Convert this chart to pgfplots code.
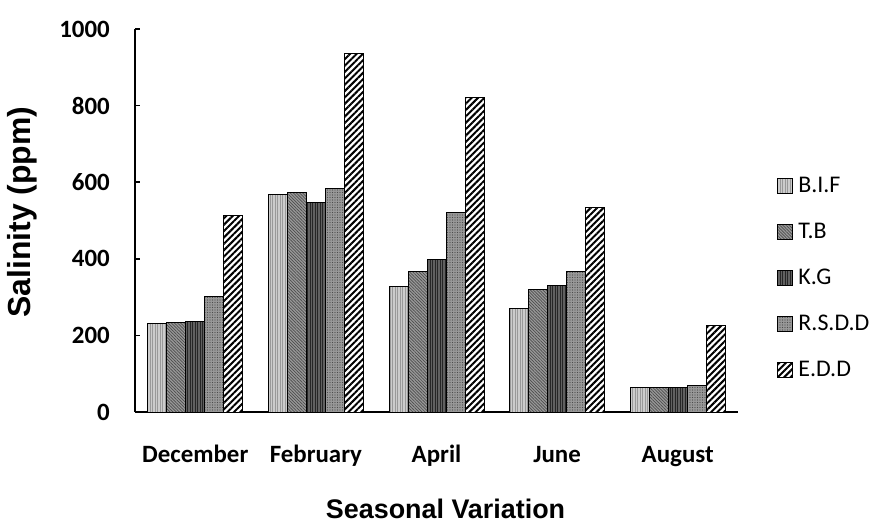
\documentclass[border=0pt]{standalone}
\usepackage{fontspec}
\setmainfont{Carlito}
\newfontfamily\arialfont{Liberation Sans}
\usepackage{pgfplots}
\pgfplotsset{compat=1.18}
\usetikzlibrary{patterns.meta}

\pgfplotstableread{
x BIF TB KG RSDD EDD
0 230 234 236 301 514
1 567 573 547 584 935
2 327 366 397 520 820
3 271 320 331 366 535
4 63 63 63 70 227
}\datatable

\begin{document}
\begin{tikzpicture}
\useasboundingbox (0,0) rectangle (874bp,525bp);
\begin{axis}[
  at={(135bp,113bp)}, anchor=south west,
  scale only axis, width=603bp, height=383bp,
  xmin=-0.5, xmax=4.5, ymin=0, ymax=1000,
  ybar=0pt, bar width=19bp,
  xtick={0,1,2,3,4},
  xticklabels={December,February,April,June,August},
  axis x line*=bottom, axis y line*=left,
  x axis line style={line width=2bp},
  y axis line style={line width=1.5bp},
  ytick={0,200,...,1000},
  tick align=inside, major tick length=5bp,
  x tick style={draw=none},
  y tick style={line width=1.5bp, black},
  /pgf/number format/assume math mode=true,
  /pgf/number format/1000 sep={},
  ticklabel style={font=\fontsize{25}{28}\selectfont\bfseries, inner sep=0pt},
  yticklabel style={anchor=east, xshift=-25bp},
  xticklabel style={anchor=base, yshift=-50bp},
  xlabel={Seasonal Variation}, ylabel={Salinity (ppm)},
  xlabel style={font=\arialfont\bfseries\fontsize{27}{30}\selectfont, inner sep=0pt,
    at={(axis description cs:0.515,-0.277)}, anchor=base},
  ylabel style={font=\arialfont\bfseries\fontsize{32}{36}\selectfont,
    at={(axis description cs:-0.1874,0.522)}, anchor=center},
  legend style={draw=none, at={(1.065,0.349)}, anchor=west, inner sep=0pt,
    font=\fontsize{24}{28}\selectfont, row sep=22bp, column sep=4bp,
    nodes={inner sep=1bp, text height=17bp, text depth=5bp}},
  legend cell align=left,
  legend image code/.code={\draw[#1, line width=1bp] (0bp,-7.5bp) rectangle (15bp,7.5bp);},
  every axis plot/.append style={draw=black, line width=1bp},
]
\addplot[fill=black!20, postaction={pattern={Lines[angle=90,distance=2.5bp,line width=0.6bp]}, pattern color=black!40}] table[x=x, y=BIF] {\datatable};
\addplot[fill=black!40, postaction={pattern={Lines[angle=-45,distance=2.2bp,line width=0.7bp]}, pattern color=black!70}] table[x=x, y=TB] {\datatable};
\addplot[fill=black!62, postaction={pattern={Lines[angle=90,distance=2.5bp,line width=0.7bp]}, pattern color=black!85}] table[x=x, y=KG] {\datatable};
\addplot[fill=black!40, postaction={pattern={Dots[distance=2.5bp,radius=0.6bp]}, pattern color=black!70}] table[x=x, y=RSDD] {\datatable};
\addplot[fill=white, postaction={pattern={Lines[angle=45,distance=4.5bp,line width=2bp]}, pattern color=black}] table[x=x, y=EDD] {\datatable};
\legend{B.I.F, T.B, K.G, R.S.D.D, E.D.D}
\end{axis}
\end{tikzpicture}
\end{document}
